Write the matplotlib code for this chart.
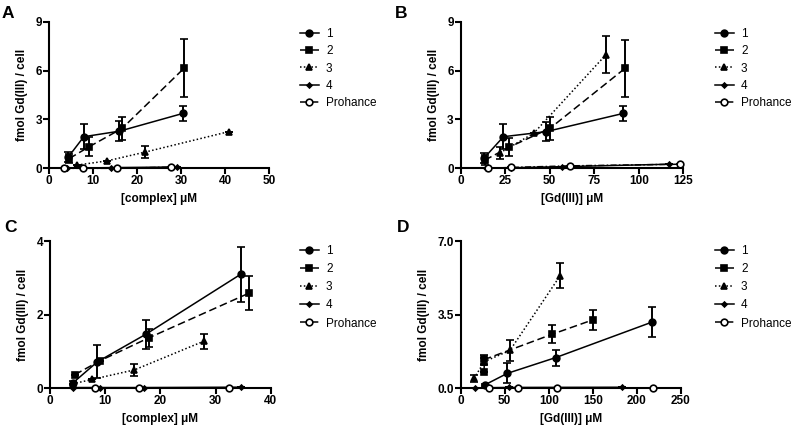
import matplotlib
matplotlib.use("Agg")
import matplotlib.pyplot as plt

plt.rcParams['font.family'] = ['Liberation Sans', 'DejaVu Sans']

labels = ["1", "2", "3", "4", "Prohance"]

# Panel A: [complex] uM
A_x1 = [4.4, 7.9, 16.0, 30.4]; A_y1 = [0.7, 1.94, 2.28, 3.37]; A_e1 = [0.3, 0.75, 0.6, 0.45]
A_x2 = [4.6, 9.15, 16.6, 30.6]; A_y2 = [0.6, 1.33, 2.45, 6.13]; A_e2 = [0.3, 0.6, 0.7, 1.78]
A_x3 = [6.4, 13.1, 21.9, 40.8]; A_y3 = [0.2, 0.45, 1.0, 2.25]; A_e3 = [0, 0, 0.35, 0]
A_x4 = [4.0, 7.5, 14.0, 29.0]; A_y4 = [0.01, 0.02, 0.04, 0.08]; A_e4 = [0, 0, 0, 0]
A_x5 = [3.4, 7.7, 15.4, 27.7]; A_y5 = [0.0, 0.0, 0.0, 0.07]; A_e5 = [0, 0, 0, 0]

# Panel B: [Gd(III)] uM
B_x1 = [13.3, 24.0, 47.9, 91.3]; B_y1 = [0.65, 1.94, 2.25, 3.37]; B_e1 = [0.3, 0.75, 0.6, 0.45]
B_x2 = [13.5, 27.3, 50.1, 92.2]; B_y2 = [0.5, 1.3, 2.45, 6.13]; B_e2 = [0.3, 0.55, 0.7, 1.75]
B_x3 = [22.0, 41.0, 81.6]; B_y3 = [0.95, 2.15, 6.98]; B_e3 = [0.35, 0, 1.15]
B_x4 = [14.0, 28.0, 56.7, 117.0]; B_y4 = [0.01, 0.03, 0.1, 0.25]; B_e4 = [0, 0, 0, 0]
B_x5 = [15.5, 28.0, 61.6, 123.0]; B_y5 = [0.0, 0.05, 0.15, 0.25]; B_e5 = [0, 0, 0, 0]

# Panel C: [complex] uM
C_x1 = [4.1, 8.6, 17.4, 34.6]; C_y1 = [0.14, 0.72, 1.47, 3.1]; C_e1 = [0.05, 0.45, 0.39, 0.75]
C_x2 = [4.5, 9.1, 17.9, 36.0]; C_y2 = [0.37, 0.75, 1.37, 2.58]; C_e2 = [0, 0, 0.25, 0.46]
C_x3 = [4.1, 7.6, 15.3, 27.9]; C_y3 = [0.12, 0.24, 0.5, 1.28]; C_e3 = [0, 0, 0.17, 0.2]
C_x4 = [4.1, 9.0, 17.1, 34.6]; C_y4 = [0.02, 0.02, 0.02, 0.03]; C_e4 = [0, 0, 0, 0]
C_x5 = [8.2, 16.2, 32.4]; C_y5 = [0.0, 0.0, 0.0]; C_e5 = [0, 0, 0]

# Panel D: [Gd(III)] uM
D_x1 = [27.3, 53.0, 108.0, 217.0]; D_y1 = [0.16, 0.71, 1.46, 3.14]; D_e1 = [0.05, 0.47, 0.38, 0.72]
D_x2 = [26.5, 27.0, 104.0, 150.0]; D_y2 = [0.79, 1.37, 2.57, 3.25]; D_e2 = [0, 0.2, 0.43, 0.47]
D_x3 = [15.0, 27.0, 56.0, 113.0]; D_y3 = [0.47, 1.27, 1.8, 5.35]; D_e3 = [0.15, 0.15, 0.5, 0.6]
D_x4 = [16.0, 55.0, 183.0]; D_y4 = [0.02, 0.04, 0.05]; D_e4 = [0, 0, 0]
D_x5 = [32.6, 65.5, 109.0, 218.0]; D_y5 = [0.0, 0.0, 0.0, 0.0]; D_e5 = [0, 0, 0, 0]

styles = [
    dict(marker='o', ms=4.8, ls='-', mfc='black'),
    dict(marker='s', ms=4.8, ls=(0, (5, 2.5)), mfc='black'),
    dict(marker='^', ms=4.2, ls=(0, (1, 1.5)), mfc='black'),
    dict(marker='D', ms=2.5, ls='-', mfc='black'),
    dict(marker='o', ms=4.8, ls=(0, (4, 1.5, 1, 1.5)), mfc='white'),
]

fig = plt.figure(figsize=(7.91, 4.26), dpi=100)
W, H = 791.0, 426.0

def make_axes(x0, x1, ytop, ybot):
    return fig.add_axes([x0 / W, 1 - ybot / H, (x1 - x0) / W, (ybot - ytop) / H])

panels = [
    dict(rect=(49, 269.3, 21.7, 168.3), xlim=(0, 50), xt=[0, 10, 20, 30, 40, 50],
         ylim=(0, 9), yt=[0, 3, 6, 9], ytl=["0", "3", "6", "9"], xlabel="[complex] \u03bcM",
         data=[(A_x1, A_y1, A_e1), (A_x2, A_y2, A_e2), (A_x3, A_y3, A_e3), (A_x4, A_y4, A_e4), (A_x5, A_y5, A_e5)],
         letter="A", lpos=(2, 14), leg=(300, 28), sp=0.45),
    dict(rect=(460.7, 683.3, 21.7, 168.3), xlim=(0, 125), xt=[0, 25, 50, 75, 100, 125],
         ylim=(0, 9), yt=[0, 3, 6, 9], ytl=["0", "3", "6", "9"], xlabel="[Gd(III)] \u03bcM",
         data=[(B_x1, B_y1, B_e1), (B_x2, B_y2, B_e2), (B_x3, B_y3, B_e3), (B_x4, B_y4, B_e4), (B_x5, B_y5, B_e5)],
         letter="B", lpos=(395, 14), leg=(715, 28), sp=0.45),
    dict(rect=(50, 270.7, 241, 388.3), xlim=(0, 40), xt=[0, 10, 20, 30, 40],
         ylim=(0, 4), yt=[0, 2, 4], ytl=["0", "2", "4"], xlabel="[complex] \u03bcM",
         data=[(C_x1, C_y1, C_e1), (C_x2, C_y2, C_e2), (C_x3, C_y3, C_e3), (C_x4, C_y4, C_e4), (C_x5, C_y5, C_e5)],
         letter="C", lpos=(4, 227), leg=(300, 245), sp=0.52),
    dict(rect=(460.7, 680.7, 241, 388.3), xlim=(0, 250), xt=[0, 50, 100, 150, 200, 250],
         ylim=(0, 7), yt=[0, 3.5, 7], ytl=["0.0", "3.5", "7.0"], xlabel="[Gd(III)] \u03bcM",
         data=[(D_x1, D_y1, D_e1), (D_x2, D_y2, D_e2), (D_x3, D_y3, D_e3), (D_x4, D_y4, D_e4), (D_x5, D_y5, D_e5)],
         letter="D", lpos=(397, 227), leg=(715, 245), sp=0.52),
]

for p in panels:
    ax = make_axes(*p["rect"])
    handles = []
    for (xs, ys, es), st, lab in zip(p["data"], styles, labels):
        h = ax.errorbar(xs, ys, yerr=es, color='black', lw=1.1, ls=st['ls'],
                        marker=st['marker'], ms=st['ms'], mfc=st['mfc'], mec='black', mew=1.2,
                        ecolor='black', elinewidth=1.4, capsize=3.2, capthick=1.4,
                        label=lab, zorder=3)
        for c in h.get_children():
            c.set_clip_on(False)
        handles.append(h.lines[0])
    ax.set_xlim(*p["xlim"])
    ax.set_ylim(*p["ylim"])
    ax.set_xticks(p["xt"])
    ax.set_yticks(p["yt"])
    ax.set_yticklabels(p["ytl"])
    for s in ['top', 'right']:
        ax.spines[s].set_visible(False)
    for s in ['left', 'bottom']:
        ax.spines[s].set_linewidth(1.5)
    ax.tick_params(direction='out', length=4, width=1.5, labelsize=8.5, pad=1)
    for t in ax.get_xticklabels() + ax.get_yticklabels():
        t.set_fontweight('bold')
    ax.set_xlabel(p["xlabel"], fontsize=8.5, fontweight='bold', labelpad=4)
    ax.set_ylabel("fmol Gd(III) / cell", fontsize=8.5, fontweight='bold', labelpad=5)
    fig.text(p["lpos"][0] / W, 1 - p["lpos"][1] / H, p["letter"], fontsize=12.5,
             fontweight='bold', va='center', ha='left')
    ax.legend(handles, labels, loc='upper left',
              bbox_to_anchor=(p["leg"][0] / W, 1 - p["leg"][1] / H),
              bbox_transform=fig.transFigure, frameon=False, fontsize=8.5,
              handlelength=1.6, handletextpad=0.6, labelspacing=p["sp"],
              borderaxespad=0, borderpad=0)

fig.savefig("out.png", dpi=100)
